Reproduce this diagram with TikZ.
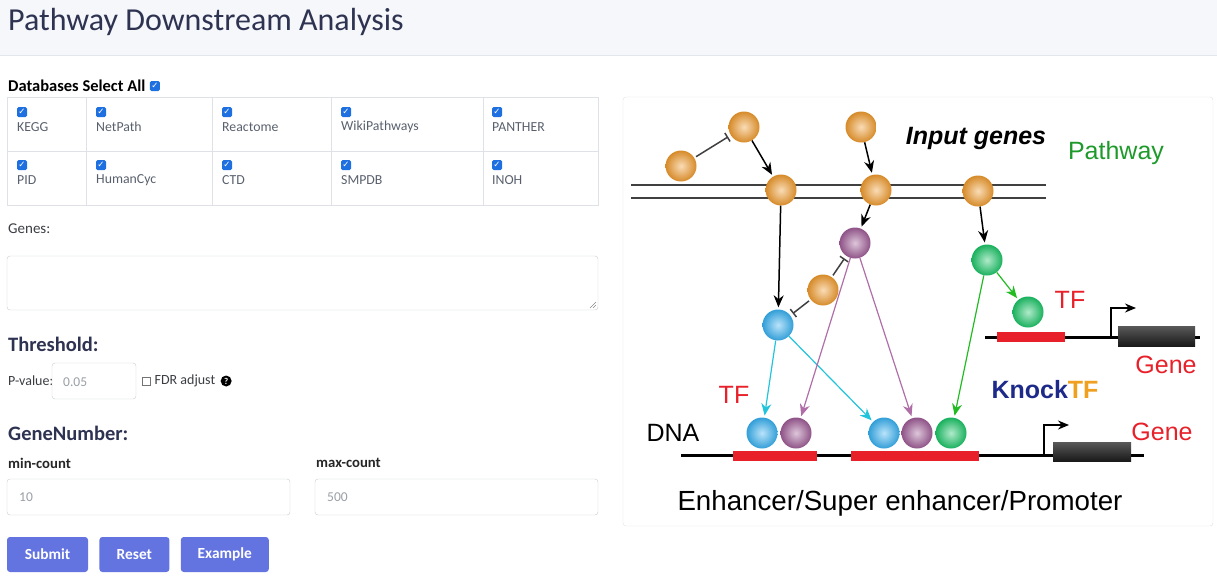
\documentclass[tikz,border=0pt]{standalone}
\usepackage{fontspec}
\setmainfont{Carlito}
\newfontfamily\figfont{Liberation Sans}
\newfontfamily\symfont{DejaVu Sans}
\usetikzlibrary{arrows.meta, positioning}

\definecolor{headbg}{HTML}{F5F7FA}
\definecolor{headline}{HTML}{E3E7EC}
\definecolor{navy}{HTML}{2F3352}
\definecolor{cellline}{HTML}{DEE1E5}
\definecolor{fieldline}{HTML}{C8CDD3}
\definecolor{dbgray}{HTML}{59606D}
\definecolor{textgray}{HTML}{3A3D42}
\definecolor{hintgray}{HTML}{9AA0A6}
\definecolor{chkblue}{HTML}{1E6FE0}
\definecolor{btnblue}{HTML}{6373E0}
\definecolor{ballorange}{HTML}{EE9A2E}
\definecolor{ballblue}{HTML}{38B0F0}
\definecolor{ballpurple}{HTML}{9E5C96}
\definecolor{ballgreen}{HTML}{1DC468}
\definecolor{cyanline}{HTML}{22C4DC}
\definecolor{purpleline}{HTML}{B06EA8}
\definecolor{greenline}{HTML}{22BB22}
\definecolor{sitered}{HTML}{E8202A}
\definecolor{pathgreen}{HTML}{1E9A2A}
\definecolor{knocknavy}{HTML}{1E2A8A}
\definecolor{knockorange}{HTML}{F0A020}

% form styles
\tikzstyle{chk} = [rectangle, rounded corners=1.5, minimum size=10, inner sep=0, fill=chkblue, text=white, font=\symfont\fontsize{8.5}{8.5}\selectfont]
\tikzstyle{dblabel} = [anchor=west, inner sep=0, text=dbgray, font=\fontsize{13.8}{15}\selectfont]
\tikzstyle{formhead} = [anchor=west, inner sep=0, text=navy, font=\bfseries\fontsize{20.5}{22}\selectfont]
\tikzstyle{formtext} = [anchor=west, inner sep=0, text=textgray, font=\fontsize{15}{17}\selectfont]
\tikzstyle{formbold} = [anchor=west, inner sep=0, text=black!85, font=\bfseries\fontsize{14.7}{16}\selectfont]
\tikzstyle{hinttext} = [anchor=west, inner sep=0, text=hintgray, font=\fontsize{13.5}{15}\selectfont]
\tikzstyle{field} = [rectangle, draw=fieldline, rounded corners=3, fill=white, inner sep=0]
\tikzstyle{btn} = [rectangle, rounded corners=3, fill=btnblue, text=white, font=\bfseries\fontsize{15.4}{17}\selectfont, minimum height=35, inner sep=0]

% figure styles
\tikzstyle{ball} = [circle, minimum size=31, inner sep=0, shading=radial]
\tikzstyle{inball} = [ball, inner color=ballorange!35!white, outer color=ballorange!90!black]
\tikzstyle{blueball} = [ball, inner color=ballblue!35!white, outer color=ballblue!90!black]
\tikzstyle{purpleball} = [ball, inner color=ballpurple!35!white, outer color=ballpurple!90!black]
\tikzstyle{greenball} = [ball, inner color=ballgreen!35!white, outer color=ballgreen!90!black]
\tikzstyle{arrow} = [line width=1.5, -{Stealth[length=12pt, width=10pt]}, shorten >=2pt]
\tikzstyle{inhibit} = [line width=1.5, black!75, -{Bar[width=10pt]}, shorten >=3pt, shorten <=2pt]
\tikzstyle{cyanarrow} = [line width=1.2, cyanline, -{Stealth[length=12pt, width=10pt]}, shorten >=2pt]
\tikzstyle{purplearrow} = [line width=1.2, purpleline, -{Stealth[length=12pt, width=10pt]}, shorten >=2pt]
\tikzstyle{greenarrow} = [line width=1.2, greenline, -{Stealth[length=12pt, width=10pt]}, shorten >=2pt]
\tikzstyle{dnaline} = [line width=3, black]
\tikzstyle{site} = [fill=sitered]
\tikzstyle{genebox} = [top color=black!65, bottom color=black!90]
\tikzstyle{tss} = [line width=1.5, -{Stealth[length=11pt, width=9pt]}]
\tikzstyle{figtext} = [inner sep=0, font=\figfont\fontsize{25}{27}\selectfont]

\begin{document}
\begin{tikzpicture}[x=1pt, y=-1pt]
	\useasboundingbox (0,0) rectangle (1217,579);
	
	% header
	\fill[headbg] (0,0) rectangle (1217,55);
	\draw[headline] (0,55) -- (1217,55);
	\node (title) [anchor=base west, inner sep=0, text=navy, font=\fontsize{32}{35}\selectfont] at (8,30) {Pathway Downstream Analysis};
	
	% databases
	\node (dbhead) [formbold, text=black, font=\bfseries\fontsize{16.5}{18}\selectfont] at (8,86) {Databases Select All};
	\node (ckall) [chk, right=4 of dbhead] {✓};
	\draw[cellline] (7,97) rectangle (598,205);
	\draw[cellline] (7,151) -- (598,151);
	\draw[cellline] (86,97) -- (86,205);
	\draw[cellline] (212,97) -- (212,205);
	\draw[cellline] (331,97) -- (331,205);
	\draw[cellline] (483,97) -- (483,205);
	\node (ck1) [chk] at (22,112) {✓};
	\node (kegg) [dblabel] at (17,127) {KEGG};
	\node (ck2) [chk] at (101,112) {✓};
	\node (netpath) [dblabel] at (96,127) {NetPath};
	\node (ck3) [chk] at (227,112) {✓};
	\node (reactome) [dblabel] at (222,127) {Reactome};
	\node (ck4) [chk] at (346,112) {✓};
	\node (wiki) [dblabel] at (341,127) {WikiPathways};
	\node (ck5) [chk] at (497,112) {✓};
	\node (panther) [dblabel] at (492,127) {PANTHER};
	\node (ck6) [chk] at (22,165) {✓};
	\node (pid) [dblabel] at (17,180) {PID};
	\node (ck7) [chk] at (101,165) {✓};
	\node (humancyc) [dblabel] at (96,180) {HumanCyc};
	\node (ck8) [chk] at (227,165) {✓};
	\node (ctd) [dblabel] at (222,180) {CTD};
	\node (ck9) [chk] at (346,165) {✓};
	\node (smpdb) [dblabel] at (341,180) {SMPDB};
	\node (ck10) [chk] at (497,165) {✓};
	\node (inoh) [dblabel] at (492,180) {INOH};
	
	% genes
	\node (geneslbl) [formtext] at (8,229) {Genes:};
	\node (genes) [field, minimum width=591, minimum height=54] at (302.5,283) {};
	\draw[black!45] (590,308) -- (596,302);
	\draw[black!45] (593,308) -- (596,305);
	
	% threshold
	\node (thr) [formhead] at (8,344) {Threshold:};
	\node (pval) [formtext, font=\fontsize{14}{16}\selectfont] at (8,381) {P-value:};
	\node (pbox) [field, minimum width=84, minimum height=36] at (94,381) {};
	\node (phint) [hinttext] at (63,382) {0.05};
	\node (fdrbox) [rectangle, draw=black!55, minimum size=8.5, inner sep=0] at (146,381) {};
	\node (fdr) [formtext, font=\fontsize{14}{16}\selectfont, right=4 of fdrbox] {FDR adjust};
	\node (help) [circle, fill=black, text=white, inner sep=0, minimum size=11, font=\bfseries\fontsize{9}{9}\selectfont, right=5 of fdr] {?};
	
	% gene number
	\node (gnum) [formhead] at (8,433) {GeneNumber:};
	\node (minlbl) [formbold] at (8,463) {min-count};
	\node (maxlbl) [formbold] at (316,463) {max-count};
	\node (minbox) [field, minimum width=283, minimum height=36] at (148.5,497) {};
	\node (maxbox) [field, minimum width=283, minimum height=36] at (456.5,497) {};
	\node (minhint) [hinttext] at (19,497) {10};
	\node (maxhint) [hinttext] at (327,497) {500};
	
	% buttons
	\node (submit) [btn, minimum width=81] at (47.5,554.5) {Submit};
	\node (reset) [btn, minimum width=70, right=11 of submit] {Reset};
	\node (example) [btn, minimum width=88, right=11 of reset] {Example};
	
	% figure panel
	\draw[cellline, rounded corners=3] (623,97) rectangle (1213,526);
	\draw[line width=2.5, black!75] (631,185) -- (1046,185);
	\draw[line width=2.5, black!75] (631,198) -- (1046,198);
	
	\node (o1) [inball] at (681,166) {};
	\node (o2) [inball] at (744,127) {};
	\node (o3) [inball] at (861,127) {};
	\node (m1) [inball] at (781,190) {};
	\node (m2) [inball] at (876,190) {};
	\node (m3) [inball] at (978,191) {};
	\node (p1) [purpleball] at (855,243) {};
	\node (o4) [inball] at (823,290) {};
	\node (b1) [blueball] at (778,325) {};
	\node (g1) [greenball] at (987,260) {};
	\node (g2) [greenball] at (1028,312) {};
	
	% upper gene
	\draw[dnaline] (985,337) -- (1200,337);
	\fill[site] (997,332) rectangle (1065,342);
	\fill[genebox] (1118,326) rectangle (1195,346);
	\coordinate (tss1) at (1111,337);
	\coordinate (tss1end) at (1136,308);
	\draw[tss] (tss1) |- (tss1end);
	
	% lower gene
	\draw[dnaline] (681,455) -- (1144,455);
	\fill[site] (733,451) rectangle (817,461);
	\fill[site] (851,451) rectangle (979,461);
	\fill[genebox] (1053,442) rectangle (1131,461);
	\coordinate (tss2) at (1044,455);
	\coordinate (tss2end) at (1069,425);
	\draw[tss] (tss2) |- (tss2end);
	
	\node (b2) [blueball] at (762,433) {};
	\node (p2) [purpleball] at (796,433) {};
	\node (b3) [blueball] at (884,433) {};
	\node (p3) [purpleball] at (917,433) {};
	\node (g3) [greenball] at (951,433) {};
	
	\draw [inhibit] (o1) -- (o2);
	\draw [arrow] (o2) -- (m1);
	\draw [arrow] (o3) -- (m2);
	\draw [arrow] (m1) -- (b1);
	\draw [arrow] (m2) -- (p1);
	\draw [inhibit] (o4) -- (p1);
	\draw [inhibit] (o4) -- (b1);
	\draw [arrow] (m3) -- (g1);
	\draw [greenarrow] (g1) -- (g2);
	\draw [cyanarrow] (b1) -- (b2);
	\draw [cyanarrow] (b1) -- (b3);
	\draw [purplearrow] (p1) -- (p2);
	\draw [purplearrow] (p1) -- (p3);
	\draw [greenarrow] (g1) -- (g3);
	
	\node (input) [figtext, font=\figfont\bfseries\itshape\fontsize{25}{27}\selectfont] at (976,138) {Input genes};
	\node (pathway) [figtext, text=pathgreen] at (1116,153) {Pathway};
	\node (tf1) [figtext, text=sitered] at (1070,300) {TF};
	\node (gene1) [figtext, text=sitered] at (1166,365) {Gene};
	\node (knock) [figtext, font=\figfont\bfseries\fontsize{25}{27}\selectfont] at (1045,390) {\textcolor{knocknavy}{Knock}\textcolor{knockorange}{TF}};
	\node (tf2) [figtext, text=sitered] at (734,395) {TF};
	\node (dna) [figtext] at (673,433) {DNA};
	\node (gene2) [figtext, text=sitered] at (1162,432) {Gene};
	\node (enh) [figtext, font=\figfont\fontsize{27.7}{30}\selectfont] at (900,503) {Enhancer/Super enhancer/Promoter};
\end{tikzpicture}
\end{document}
